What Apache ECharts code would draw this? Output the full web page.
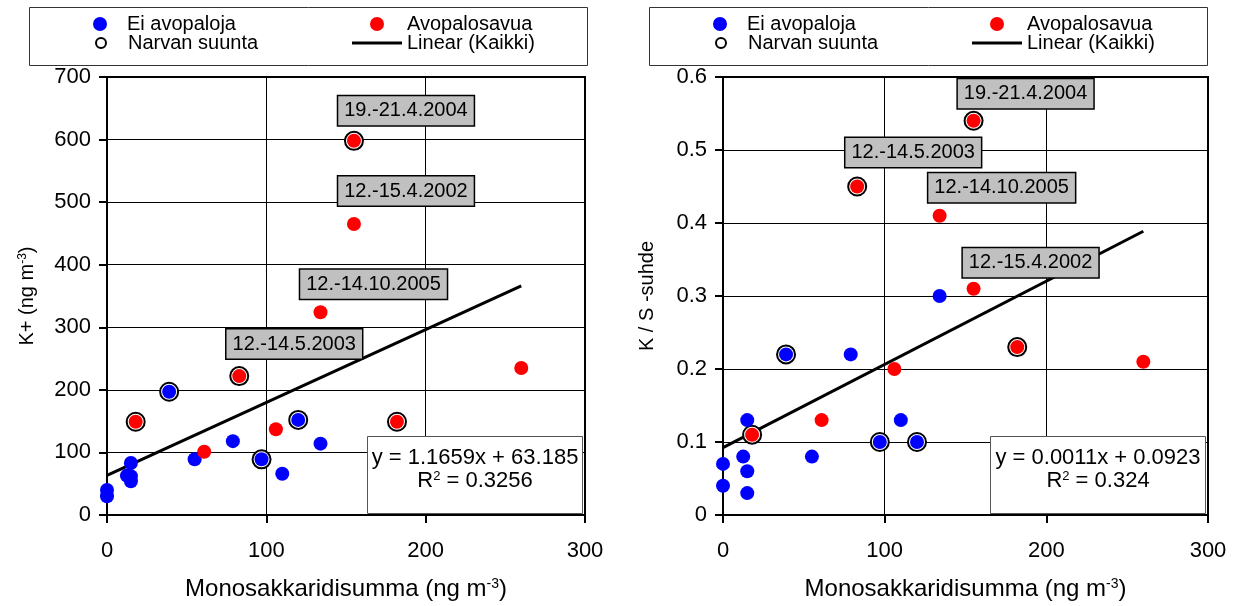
<!DOCTYPE html>
<html>
<head>
<meta charset="utf-8">
<title>K+ ja K/S-suhde vs. monosakkaridisumma</title>
<script src="https://cdn.jsdelivr.net/npm/echarts@6/dist/echarts.min.js"></script>
<style>
  html, body { margin: 0; padding: 0; background: #fff; }
  #chart { width: 1241px; height: 606px; }
</style>
</head>
<body>
<div id="chart"></div>
<script>
// Ei avopaloja (siniset pisteet)
const blueMono = [0, 0, 15, 12.5, 15, 15, 39, 55, 79, 97, 110, 120, 134];
const blueK = [40, 30, 83, 63, 62, 54, 197, 89, 118, 89, 66, 152, 114];
const blueKS = [0.07, 0.04, 0.13, 0.08, 0.06, 0.03, 0.22, 0.08, 0.22, 0.10, 0.13, 0.10, 0.30];
const blueNarva = [0, 0, 0, 0, 0, 0, 1, 0, 0, 1, 0, 1, 0];

// Avopalosavua (punaiset pisteet)
const redMono = [18, 61, 83, 106, 134, 155, 155, 182, 260];
const redK = [149, 101, 222, 137, 324, 598, 465, 149, 235];
const redKS = [0.11, 0.13, 0.45, 0.20, 0.41, 0.54, 0.31, 0.23, 0.21];
const redNarva = [1, 0, 1, 0, 0, 1, 0, 1, 0];
const redLabels = ['', '', '12.-14.5.2003', '', '12.-14.10.2005', '19.-21.4.2004', '12.-15.4.2002', '', ''];

// trendiviivat [kulmakerroin, vakio]
const trendRange = [0, 260];
const trendK = [1.1659, 63.185];
const trendKS = [0.00114, 0.0923];
const eqK = ['y = 1.1659x + 63.185', '0.3256'];
const eqKS = ['y = 0.0011x + 0.0923', '0.324'];

// akselit [min, max, väli]
const xTicks = [0, 300, 100];
const yTicksK = [0, 700, 100];
const yTicksKS = [0, 0.6, 0.1];

const FONT = '"Liberation Sans", Arial, sans-serif';
const BLUE = '#0000ff';
const RED = '#ff0000';

// label offsets (px) for the date boxes
const labelOffsets = [
  { '19.-21.4.2004': [52, -30], '12.-15.4.2002': [52, -33], '12.-14.10.2005': [53, -28], '12.-14.5.2003': [55, -32] },
  { '19.-21.4.2004': [52, -27], '12.-14.5.2003': [56, -34], '12.-14.10.2005': [62, -28], '12.-15.4.2002': [57, -26] }
];

function pts(xs, ys, keep) {
  const out = [];
  xs.forEach((x, i) => { if (!keep || keep[i]) out.push([x, ys[i]]); });
  return out;
}

function redData(ys, offsets) {
  return redMono.map((x, i) => {
    const item = { value: [x, ys[i]] };
    const txt = redLabels[i];
    if (txt) {
      item.label = {
        show: true,
        formatter: txt,
        position: 'inside',
        offset: offsets[txt],
        color: '#000',
        fontSize: 20,
        fontFamily: FONT,
        backgroundColor: '#c0c0c0',
        borderColor: '#000',
        borderWidth: 1.5,
        padding: [5, 6, 4, 6]
      };
    }
    return item;
  });
}

function xAxisCfg(gi) {
  return {
    type: 'value', gridIndex: gi,
    min: xTicks[0], max: xTicks[1], interval: xTicks[2],
    name: 'Monosakkaridisumma (ng m{sup|-3})',
    nameLocation: 'middle', nameGap: 62, nameMoveOverlap: false,
    nameTextStyle: {
      color: '#000', fontSize: 24, fontFamily: FONT,
      rich: { sup: { fontSize: 14, fontFamily: FONT, color: '#000', verticalAlign: 'top', padding: [0, 0, 9, 0] } }
    },
    axisLine: { show: true, onZero: false, lineStyle: { color: '#000', width: 2 } },
    axisTick: { show: true, inside: false, length: 8, lineStyle: { color: '#000', width: 2 } },
    axisLabel: { color: '#000', fontSize: 22, fontFamily: FONT, margin: 25 },
    splitLine: { show: true, lineStyle: { color: '#000', width: 1 } }
  };
}

function yAxisCfg(gi, ticks, name, gap) {
  return {
    type: 'value', gridIndex: gi,
    min: ticks[0], max: ticks[1], interval: ticks[2],
    name: name,
    nameLocation: 'middle', nameGap: gap, nameRotate: 90, nameMoveOverlap: false,
    nameTextStyle: {
      color: '#000', fontSize: 20, fontFamily: FONT,
      rich: { sup: { fontSize: 12, fontFamily: FONT, color: '#000', verticalAlign: 'top', padding: [0, 0, 8, 0] } }
    },
    axisLine: { show: true, onZero: false, lineStyle: { color: '#000', width: 2 } },
    axisTick: { show: true, inside: false, length: 8, lineStyle: { color: '#000', width: 2 } },
    axisLabel: { color: '#000', fontSize: 22, fontFamily: FONT, margin: 16 },
    splitLine: { show: true, lineStyle: { color: '#000', width: 1 } }
  };
}

function seriesFor(gi, ysBlue, ysRed, trend) {
  const narva = pts(blueMono, ysBlue, blueNarva).concat(pts(redMono, ysRed, redNarva));
  return [
    {
      name: 'Linear (Kaikki)', type: 'line', xAxisIndex: gi, yAxisIndex: gi,
      data: trendRange.map(x => [x, trend[0] * x + trend[1]]),
      symbol: 'none', showSymbol: false, z: 2,
      lineStyle: { color: '#000', width: 3 }, itemStyle: { color: '#000' }
    },
    {
      name: 'Narvan suunta', type: 'scatter', xAxisIndex: gi, yAxisIndex: gi,
      data: narva, symbol: 'circle', symbolSize: 18, z: 3,
      itemStyle: { color: '#fff', borderColor: '#000', borderWidth: 2, opacity: 1 }
    },
    {
      name: 'Ei avopaloja', type: 'scatter', xAxisIndex: gi, yAxisIndex: gi,
      data: pts(blueMono, ysBlue), symbol: 'circle', symbolSize: 14, z: 4,
      itemStyle: { color: BLUE, opacity: 1 }
    },
    {
      name: 'Avopalosavua', type: 'scatter', xAxisIndex: gi, yAxisIndex: gi,
      data: redData(ysRed, labelOffsets[gi]), symbol: 'circle', symbolSize: 14, z: 5,
      itemStyle: { color: RED, opacity: 1 }
    }
  ];
}

function legendsFor(dx) {
  const txt = (pad) => ({ color: '#000', fontSize: 20, fontFamily: FONT, padding: [0, 0, 0, pad] });
  const base = { orient: 'horizontal', padding: 0, selectedMode: false };
  return [
    Object.assign({}, base, { data: ['Ei avopaloja'], left: 93 + dx, top: 14, itemWidth: 14, itemHeight: 14,
      icon: 'circle', textStyle: txt(15) }),
    Object.assign({}, base, { data: ['Narvan suunta'], left: 95 + dx, top: 33, itemWidth: 10, itemHeight: 10,
      icon: 'circle', textStyle: txt(17), itemStyle: { color: '#fff', borderColor: '#000', borderWidth: 2 } }),
    Object.assign({}, base, { data: ['Avopalosavua'], left: 370 + dx, top: 14, itemWidth: 14, itemHeight: 14,
      icon: 'circle', textStyle: txt(18) }),
    Object.assign({}, base, { data: ['Linear (Kaikki)'], left: 352 + dx, top: 33, itemWidth: 50, itemHeight: 3,
      icon: 'rect', textStyle: txt(0), itemStyle: { color: '#000' } })
  ];
}

function eqBox(x, y, eq) {
  return {
    type: 'group', left: x, top: y,
    children: [
      { type: 'rect', z: 100, shape: { x: 0, y: 0, width: 215, height: 77 },
        style: { fill: '#fff', stroke: '#555', lineWidth: 1 } },
      { type: 'text', z: 101, x: 107.5, y: 21, style: {
          text: eq[0], fontSize: 22, fontFamily: FONT, fill: '#000', align: 'center', verticalAlign: 'middle' } },
      { type: 'text', z: 101, x: 107.5, y: 44, style: {
          text: 'R{sup|2} = ' + eq[1], fontSize: 22, fontFamily: FONT, fill: '#000', align: 'center', verticalAlign: 'middle',
          rich: { sup: { fontSize: 13, fontFamily: FONT, fill: '#000', verticalAlign: 'top', padding: [0, 0, 8, 0] } } } }
    ]
  };
}

function legendBox(x) {
  return {
    type: 'rect', left: x, top: 7, z: 0, silent: true,
    shape: { x: 0, y: 0, width: 558, height: 58 },
    style: { fill: '#fff', stroke: '#333', lineWidth: 1 }
  };
}

const chart = echarts.init(document.getElementById('chart'));
chart.setOption({
  animation: false,
  backgroundColor: '#fff',
  textStyle: { fontFamily: FONT },
  grid: [
    { left: 107, top: 77, width: 478, height: 438, show: true, borderColor: '#000', borderWidth: 2, outerBoundsMode: 'none' },
    { left: 723, top: 77, width: 485, height: 438, show: true, borderColor: '#000', borderWidth: 2, outerBoundsMode: 'none' }
  ],
  xAxis: [xAxisCfg(0), xAxisCfg(1)],
  yAxis: [
    yAxisCfg(0, yTicksK, 'K+ (ng m{sup|-3})', 70),
    yAxisCfg(1, yTicksKS, 'K / S -suhde', 66)
  ],
  legend: legendsFor(0).concat(legendsFor(620)),
  graphic: [
    legendBox(29), legendBox(649),
    eqBox(367, 436, eqK), eqBox(990, 436, eqKS)
  ],
  series: seriesFor(0, blueK, redK, trendK).concat(seriesFor(1, blueKS, redKS, trendKS))
});
window.addEventListener('resize', function () {
  chart.resize();
});
</script>
</body>
</html>
